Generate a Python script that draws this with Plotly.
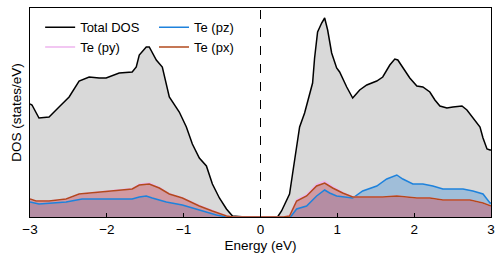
import plotly.graph_objects as go

# ---- data (energy in eV, DOS in states/eV, arbitrary scale) ----
total_e = [-3.0, -2.974, -2.883, -2.752, -2.622, -2.491, -2.361, -2.23, -2.1, -2.009,
           -1.839, -1.67, -1.617, -1.578, -1.487, -1.448, -1.356, -1.278, -1.187, -1.057,
           -0.965, -0.887, -0.796, -0.704, -0.626, -0.535, -0.443, -0.365, -0.2, 0.0,
           0.222, 0.274, 0.378, 0.417, 0.509, 0.574, 0.639, 0.678, 0.704, 0.743,
           0.796, 0.835, 0.874, 0.926, 0.991, 1.03, 1.122, 1.2, 1.291, 1.383,
           1.513, 1.591, 1.683, 1.748, 1.787, 1.852, 1.943, 2.035, 2.113, 2.204,
           2.27, 2.335, 2.426, 2.504, 2.622, 2.687, 2.765, 2.857, 2.896, 2.948,
           2.987, 3.0]
total_dos = [5.65, 5.60, 4.95, 5.00, 5.50, 6.00, 6.80, 7.00, 6.95, 6.95,
             7.20, 7.25, 7.50, 8.10, 8.50, 8.50, 7.85, 7.50, 6.00, 5.25,
             4.50, 3.65, 2.95, 2.55, 1.65, 0.95, 0.40, 0.05, 0.0, 0.0,
             0.0, 0.30, 1.15, 2.15, 4.50, 5.20, 6.20, 6.70, 7.95, 9.25,
             9.70, 9.95, 9.35, 8.20, 7.45, 7.25, 6.50, 5.95, 6.35, 6.60,
             6.80, 7.00, 7.60, 7.90, 7.85, 7.45, 6.95, 6.55, 6.50, 6.25,
             5.85, 5.55, 5.45, 5.50, 5.55, 5.35, 4.95, 4.50, 3.95, 3.40,
             3.35, 3.35]

pz_e = [-3.0, -2.883, -2.53, -2.322, -2.1, -1.67, -1.578, -1.487, -1.409, -1.226,
        -1.017, -0.796, -0.574, -0.443, 0.0, 0.339, 0.40, 0.47, 0.60, 0.73,
        0.835, 0.90, 0.991, 1.2, 1.33, 1.513, 1.643, 1.774, 1.852, 1.983,
        2.113, 2.243, 2.374, 2.635, 2.765, 2.896, 2.987, 3.0]
pz_dos = [0.75, 0.65, 0.75, 0.90, 0.90, 0.90, 1.00, 1.05, 0.95, 0.75,
          0.60, 0.35, 0.10, 0.0, 0.0, 0.0, 0.05, 0.40, 0.55, 1.05,
          1.35, 1.20, 1.05, 0.95, 1.30, 1.55, 1.90, 2.10, 1.90, 1.65,
          1.65, 1.55, 1.40, 1.40, 1.30, 1.15, 0.70, 0.70]

px_e = [-3.0, -2.922, -2.752, -2.53, -2.361, -2.1, -1.878, -1.67, -1.578, -1.448,
        -1.317, -1.187, -1.017, -0.796, -0.626, -0.443, -0.365, 0.0, 0.30, 0.378,
        0.47, 0.60, 0.73, 0.835, 0.939, 1.07, 1.2, 1.591, 1.774, 2.035,
        2.204, 2.374, 2.726, 2.896, 2.987, 3.0]
px_dos = [0.90, 0.80, 0.80, 0.90, 1.15, 1.25, 1.30, 1.40, 1.60, 1.65,
          1.45, 1.15, 0.95, 0.55, 0.30, 0.05, 0.0, 0.0, 0.0, 0.05,
          0.80, 1.05, 1.55, 1.70, 1.45, 1.20, 1.00, 1.00, 1.05, 0.95,
          0.95, 0.85, 0.85, 0.70, 0.55, 0.55]

py_e = px_e
py_dos = [0.90, 0.80, 0.80, 0.90, 1.15, 1.25, 1.32, 1.42, 1.64, 1.70,
          1.48, 1.17, 0.96, 0.58, 0.33, 0.06, 0.0, 0.0, 0.0, 0.07,
          0.86, 1.12, 1.63, 1.80, 1.52, 1.23, 1.01, 1.00, 1.05, 0.95,
          0.95, 0.85, 0.85, 0.70, 0.55, 0.55]

FONT = "Liberation Sans, Arial, sans-serif"
series = [
    ("Total DOS", total_e, total_dos, "black", "rgba(128,128,128,0.3)", "legend"),
    ("Te (pz)", pz_e, pz_dos, "#1e82dc", "rgba(30,130,220,0.3)", "legend2"),
    ("Te (py)", py_e, py_dos, "#eeb4ee", "rgba(238,130,238,0.3)", "legend"),
    ("Te (px)", px_e, px_dos, "#b24a1c", "rgba(178,74,28,0.3)", "legend2"),
]

fig = go.Figure()

# fills first
for name, xs, ys, lc, fc, lg in series:
    fig.add_trace(go.Scatter(x=xs, y=ys, mode="lines", fill="tozeroy",
                             fillcolor=fc, line=dict(width=0, color=fc),
                             showlegend=False, hoverinfo="skip"))
# then outlines
for name, xs, ys, lc, fc, lg in series:
    fig.add_trace(go.Scatter(x=xs, y=ys, mode="lines", name=name,
                             line=dict(color=lc, width=1.5), showlegend=False))

# legend-only entries (line symbols)
for name in ["Total DOS", "Te (py)", "Te (pz)", "Te (px)"]:
    for n, xs, ys, lc, fc, lg in series:
        if n == name:
            fig.add_trace(go.Scatter(x=[None], y=[None], mode="lines", name=n,
                                     line=dict(color=lc, width=1.5), legend=lg))

fig.add_shape(type="line", x0=0, x1=0, y0=0, y1=1, xref="x", yref="paper",
              line=dict(color="black", width=1, dash="dash"), layer="above")

leg_common = dict(bgcolor="rgba(0,0,0,0)", borderwidth=0,
                  font=dict(family=FONT, size=13, color="black"),
                  yanchor="top", y=0.98, xanchor="left", tracegroupgap=0,
                  traceorder="normal")

fig.update_layout(
    width=503, height=262,
    margin=dict(l=30, r=12, t=8, b=45),
    paper_bgcolor="white", plot_bgcolor="white",
    font=dict(family=FONT, size=13.5, color="black"),
    legend=dict(x=0.022, **leg_common),
    legend2=dict(x=0.269, **leg_common),
    xaxis=dict(range=[-3, 3], tickvals=[-3, -2, -1, 0, 1, 2, 3],
               ticks="inside", ticklen=4, tickcolor="black",
               showline=True, linecolor="black", linewidth=1, mirror=True,
               showgrid=False, zeroline=False,
               title=dict(text="Energy (eV)", font=dict(size=13.5), standoff=4),
               tickfont=dict(size=13.5)),
    yaxis=dict(range=[0, 10.45], showticklabels=False, ticks="",
               showline=True, linecolor="black", linewidth=1, mirror=True,
               showgrid=False, zeroline=False,
               title=dict(text="DOS (states/eV)", font=dict(size=13.5), standoff=4)),
)

fig.write_html("out.html", config={"displayModeBar": False},
               post_script="document.body.style.margin='0';")
